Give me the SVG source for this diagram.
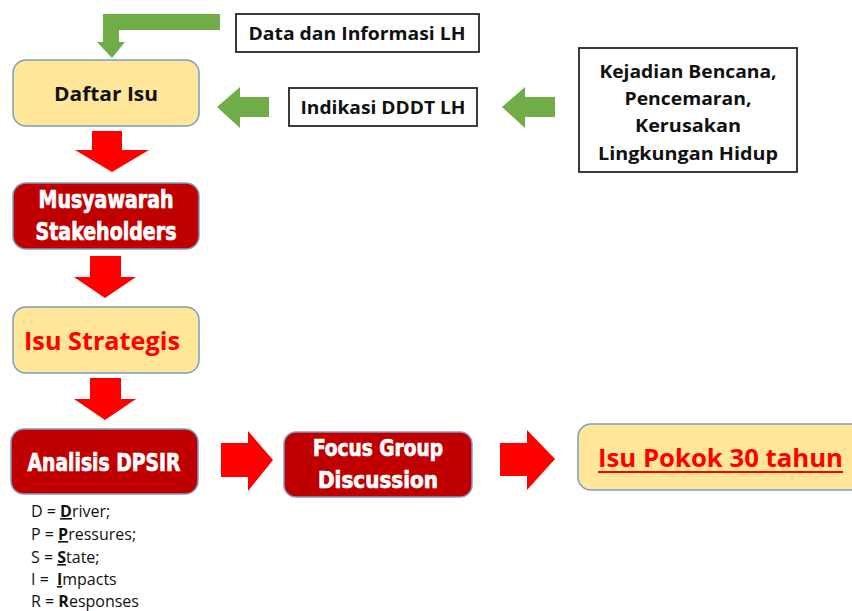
<svg xmlns="http://www.w3.org/2000/svg" width="852" height="611" viewBox="0 0 852 611">
<style>
.yel{fill:#FFE699;stroke:#7E9CC6;stroke-width:1.5}
.dred{fill:#C00000;stroke:#7E9CC6;stroke-width:1.5}
.wbox{fill:#FFFFFF;stroke:#262626;stroke-width:1.8}
.grn{fill:#70AD47}
.red{fill:#FF0000}
.t{font-family:"Open Sans","Liberation Sans",sans-serif;font-weight:bold;fill:#111111}
.w{font-family:"DejaVu Sans Condensed","Liberation Sans",sans-serif;font-weight:bold;fill:#FFFFFF;stroke:#FFFFFF;stroke-width:0.7}
.r{font-family:"Open Sans","Liberation Sans",sans-serif;font-weight:bold;fill:#FF0000}
.l{font-family:"Open Sans","Liberation Sans",sans-serif;font-size:16px;fill:#111111}
</style>
<rect width="852" height="611" fill="#FFFFFF"/>
<g id="connectors">
<path class="grn" d="M220,14 L220,30 L119,30 L119,42 L125,42 L112,58 L97,42 L103,42 L103,14 Z"/>
<path class="grn" d="M269,97 L240,97 L240,87 L217,107 L240,128 L240,117 L269,117 Z"/>
<path class="grn" d="M555,97 L525,97 L525,87 L502,107 L525,128 L525,117 L555,117 Z"/>
<path class="red" d="M92,131 L122,131 L122,150 L149,150 L112,172 L75,150 L92,150 Z"/>
<path class="red" d="M90,256 L121,256 L121,277 L136,277 L105,298 L74,277 L90,277 Z"/>
<path class="red" d="M90,378 L121,378 L121,399 L136,399 L105,420 L74,399 L90,399 Z"/>
<path class="red" d="M221,443 L248,443 L248,431 L273,460 L248,491 L248,477 L221,477 Z"/>
<path class="red" d="M500,443 L527,443 L527,430 L555,459 L527,490 L527,476 L500,476 Z"/>
</g>
<g id="daftar-isu">
<rect class="yel" x="13" y="60" width="186" height="66" rx="13"/>
<text class="t" x="106" y="101" font-size="20" text-anchor="middle" textLength="104" lengthAdjust="spacingAndGlyphs">Daftar Isu</text>
</g>
<g id="data-informasi">
<rect class="wbox" x="236" y="14" width="243" height="38"/>
<text class="t" x="357" y="40" font-size="18" text-anchor="middle" textLength="217" lengthAdjust="spacingAndGlyphs">Data dan Informasi LH</text>
</g>
<g id="indikasi">
<rect class="wbox" x="289" y="88" width="188" height="38"/>
<text class="t" x="383" y="114" font-size="18" text-anchor="middle" textLength="165" lengthAdjust="spacingAndGlyphs">Indikasi DDDT LH</text>
</g>
<g id="kejadian">
<rect class="wbox" x="579" y="48" width="218" height="124"/>
<text class="t" x="688" y="78" font-size="18" text-anchor="middle" textLength="177" lengthAdjust="spacingAndGlyphs">Kejadian Bencana,</text>
<text class="t" x="688" y="105" font-size="18" text-anchor="middle" textLength="127" lengthAdjust="spacingAndGlyphs">Pencemaran,</text>
<text class="t" x="688" y="132" font-size="18" text-anchor="middle" textLength="106" lengthAdjust="spacingAndGlyphs">Kerusakan</text>
<text class="t" x="688" y="160" font-size="18" text-anchor="middle" textLength="180" lengthAdjust="spacingAndGlyphs">Lingkungan Hidup</text>
</g>
<g id="musyawarah">
<rect class="dred" x="13" y="183" width="186" height="66" rx="13"/>
<text class="w" x="106" y="208" font-size="24" text-anchor="middle" textLength="135" lengthAdjust="spacingAndGlyphs">Musyawarah</text>
<text class="w" x="106" y="240" font-size="24" text-anchor="middle" textLength="141" lengthAdjust="spacingAndGlyphs">Stakeholders</text>
</g>
<g id="isu-strategis">
<rect class="yel" x="13" y="307" width="186" height="66" rx="13"/>
<text class="r" x="102" y="350" font-size="25" text-anchor="middle" textLength="156" lengthAdjust="spacingAndGlyphs">Isu Strategis</text>
</g>
<g id="analisis-dpsir">
<rect class="dred" x="11" y="429" width="187" height="65" rx="13"/>
<text class="w" x="104" y="471" font-size="25" text-anchor="middle" textLength="153" lengthAdjust="spacingAndGlyphs">Analisis DPSIR</text>
</g>
<g id="focus-group">
<rect class="dred" x="284" y="432" width="188" height="65" rx="12"/>
<text class="w" x="378" y="456" font-size="23" text-anchor="middle" textLength="130" lengthAdjust="spacingAndGlyphs">Focus Group</text>
<text class="w" x="378" y="488" font-size="23" text-anchor="middle" textLength="120" lengthAdjust="spacingAndGlyphs">Discussion</text>
</g>
<g id="isu-pokok">
<rect class="yel" x="578" y="424" width="290" height="66" rx="13"/>
<text class="r" x="598" y="467" font-size="25" textLength="245" lengthAdjust="spacingAndGlyphs">Isu Pokok 30 tahun</text>
<rect x="598" y="471" width="245" height="2" fill="#FF0000"/>
</g>
<g id="dpsir-legend">
<text class="l" x="31" y="517">D = <tspan font-weight="bold" text-decoration="underline">D</tspan>river;</text>
<text class="l" x="31" y="540">P = <tspan font-weight="bold" text-decoration="underline">P</tspan>ressures;</text>
<text class="l" x="31" y="563">S = <tspan font-weight="bold" text-decoration="underline">S</tspan>tate;</text>
<text class="l" x="31" y="585">I = <tspan dx="4" font-weight="bold" text-decoration="underline">I</tspan>mpacts</text>
<text class="l" x="31" y="607">R = <tspan font-weight="bold">R</tspan>esponses</text>
</g>
</svg>
